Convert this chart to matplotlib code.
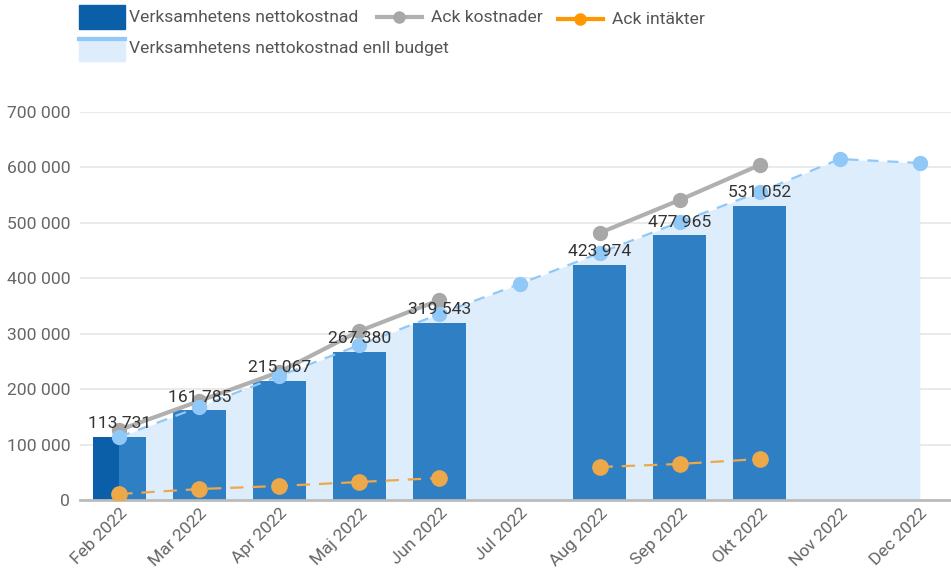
import matplotlib
matplotlib.use("Agg")
import matplotlib.pyplot as plt
import numpy as np
from matplotlib.patches import Rectangle
from matplotlib.lines import Line2D
from matplotlib.ticker import FuncFormatter

plt.rcParams['font.family'] = ['Roboto', 'DejaVu Sans']

months = ["Feb 2022", "Mar 2022", "Apr 2022", "Maj 2022", "Jun 2022", "Jul 2022",
          "Aug 2022", "Sep 2022", "Okt 2022", "Nov 2022", "Dec 2022"]
nettokostnad = [113731, 161785, 215067, 267380, 319543, np.nan,
                423974, 477965, 531052, np.nan, np.nan]
budget = [113700, 167800, 223700, 279600, 335600, 389700,
          445600, 501500, 555700, 615200, 608000]
ack_kostnader = [126300, 178600, 231000, 304900, 360800, np.nan,
                 481700, 541200, 604400, np.nan, np.nan]
ack_intakter = [10800, 19800, 25300, 32500, 39700, np.nan,
                59500, 65000, 74000, np.nan, np.nan]

W, H = 951, 573
FS = 12.6
fig = plt.figure(figsize=(W / 100, H / 100), dpi=100)
ax = fig.add_axes([80 / W, 1 - 500 / H, (W - 80) / W, (500 - 112) / H])

x = np.arange(len(months))
bar_blue = '#2e7fc4'
dark_blue = '#0b5fa8'
light_fill = '#deedfc'
budget_col = '#90c8f8'
gray = '#b0b0b0'
orange = '#eda84a'

# budget area
ax.fill_between(x, budget, 0, color=light_fill, lw=0, zorder=1)
ax.plot(x, budget, color=budget_col, lw=1.6, ls=(0, (5, 4)), zorder=5)
ax.plot(x, budget, ls='none', marker='o', ms=10, color=budget_col, zorder=6)

# bars
bw = 0.66
ax.bar(x, nettokostnad, width=bw, color=bar_blue, zorder=2)
ax.bar(x[0] - bw / 2, nettokostnad[0], width=bw / 2, align='edge', color=dark_blue, zorder=2)

# ack kostnader (gray)
ax.plot(x, ack_kostnader, color=gray, lw=3, marker='o', ms=10,
        markerfacecolor='#a8a8a8', markeredgecolor='#a8a8a8', zorder=4)

# ack intakter (orange dashed)
ax.plot(x, ack_intakter, color=orange, lw=1.6, ls=(0, (6, 4)), zorder=7)
ax.plot(x, ack_intakter, ls='none', marker='o', ms=11, color=orange, zorder=7)

# value labels
for xx, v in zip(x, nettokostnad):
    if np.isnan(v):
        continue
    ax.annotate(f"{int(v):,}".replace(",", " "), (xx, v), xytext=(0, 4),
                textcoords='offset points', ha='center', va='bottom',
                fontsize=FS, color='#333333', zorder=10)

ax.set_xlim(-0.49, 10.39)
ax.set_ylim(0, 700000)
ax.set_yticks(np.arange(0, 700001, 100000))
ax.yaxis.set_major_formatter(FuncFormatter(lambda v, p: f"{int(v):,}".replace(",", " ")))
ax.grid(axis='y', color='#e6e6e6', lw=1.2, zorder=0)
ax.set_axisbelow(True)
for s in ['top', 'right', 'left']:
    ax.spines[s].set_visible(False)
ax.spines['bottom'].set_color('#bbbbbb')
ax.spines['bottom'].set_linewidth(2)
ax.tick_params(axis='y', length=0, pad=7, labelsize=FS, labelcolor='#666666')
ax.tick_params(axis='x', length=0, pad=4, labelsize=FS, labelcolor='#666666')
ax.set_xticks(x)
ax.set_xticklabels(months, rotation=45, ha='right', va='top', rotation_mode='anchor')

# legend drawn in pixel space
lg = fig.add_axes([0, 0, 1, 1], zorder=20)
lg.set_xlim(0, W)
lg.set_ylim(H, 0)
lg.axis('off')
lg.add_patch(Rectangle((79, 5), 46, 24, color=dark_blue))
lg.text(129, 17, "Verksamhetens nettokostnad", va='center', fontsize=FS, color='#555555')
lg.add_line(Line2D([377, 422], [17, 17], color=gray, lw=3))
lg.plot([399], [17], marker='o', ms=8, color='#a8a8a8')
lg.text(431, 17, "Ack kostnader", va='center', fontsize=FS, color='#555555')
lg.add_line(Line2D([558, 603], [19, 19], color='#ff9800', lw=3))
lg.plot([580], [19], marker='o', ms=8, color='#ff9800')
lg.text(612, 19, "Ack intäkter", va='center', fontsize=FS, color='#555555')
lg.add_patch(Rectangle((79, 37), 46, 24, color=light_fill))
lg.add_line(Line2D([79, 125], [39, 39], color=budget_col, lw=3))
lg.text(129, 49, "Verksamhetens nettokostnad enll budget", va='center', fontsize=FS, color='#555555')

fig.savefig("out.png", dpi=100)
